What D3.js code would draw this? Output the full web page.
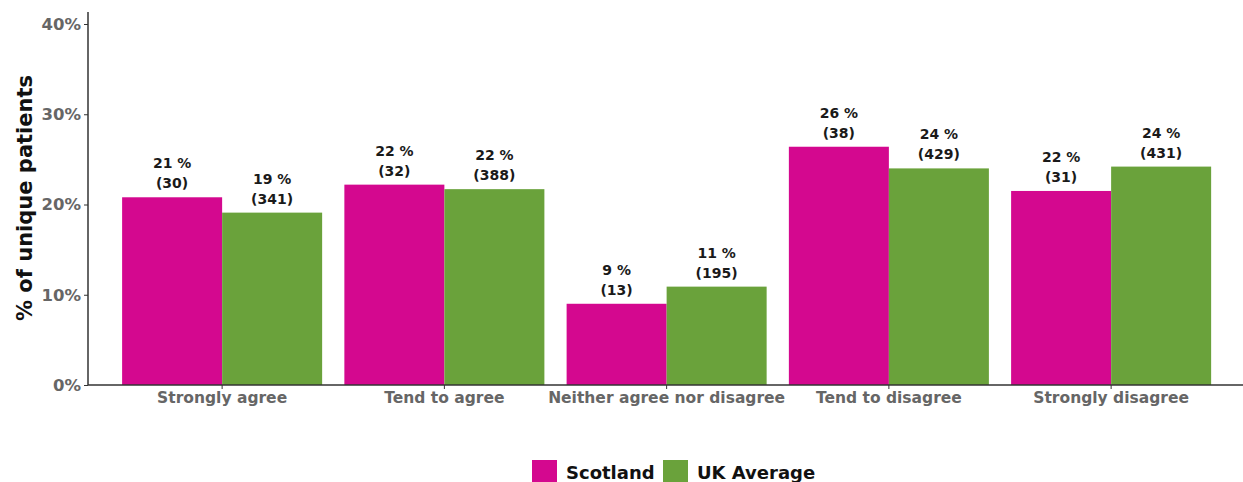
<!DOCTYPE html>
<html><head><meta charset="utf-8">
<script src="https://cdn.jsdelivr.net/npm/d3@7"></script>
<style>body{margin:0;background:#fff}svg{display:block}</style>
</head><body>
<script>
const categories = ["Strongly agree","Tend to agree","Neither agree nor disagree","Tend to disagree","Strongly disagree"];
const seriesNames = ["Scotland","UK Average"];
const scotlandPct = [20.8, 22.2, 9.0, 26.4, 21.5];
const ukPct = [19.1, 21.7, 10.9, 24.0, 24.2];
const scotlandLabels = ["21 %","22 %","9 %","26 %","22 %"];
const ukLabels = ["19 %","22 %","11 %","24 %","24 %"];
const scotlandCounts = ["(30)","(32)","(13)","(38)","(31)"];
const ukCounts = ["(341)","(388)","(195)","(429)","(431)"];
const yTicks = [0,10,20,30,40];
const colors = ["#d4088f","#6aa23b"];

const W = 1243, H = 482;
const svg = d3.select("body").append("svg").attr("width",W).attr("height",H);
const font = "'DejaVu Sans', sans-serif";

const x0 = d3.scaleBand().domain(categories).range([111,1222.25]).paddingInner(0.1).paddingOuter(0.05);
const x1 = d3.scaleBand().domain(seriesNames).range([0,x0.bandwidth()]);
const y = d3.scaleLinear().domain([0,40]).range([385,24]);

const data = categories.map((c,i)=>[
  {cat:c,s:seriesNames[0],v:scotlandPct[i],l:scotlandLabels[i],n:scotlandCounts[i]},
  {cat:c,s:seriesNames[1],v:ukPct[i],l:ukLabels[i],n:ukCounts[i]}
]).flat();

svg.append("g").selectAll("rect").data(data).join("rect")
  .attr("x",d=>x0(d.cat)+x1(d.s))
  .attr("width",x1.bandwidth())
  .attr("y",d=>y(d.v))
  .attr("height",d=>y(0)-y(d.v))
  .attr("fill",d=>colors[seriesNames.indexOf(d.s)]);

const lab = svg.append("g").selectAll("text").data(data).join("text")
  .attr("x",d=>x0(d.cat)+x1(d.s)+x1.bandwidth()/2)
  .attr("text-anchor","middle")
  .attr("font-family",font).attr("font-weight","bold").attr("font-size",14)
  .attr("fill","#1a1a1a");
lab.append("tspan").attr("x",d=>x0(d.cat)+x1(d.s)+x1.bandwidth()/2).attr("y",d=>y(d.v)-29).text(d=>d.l);
lab.append("tspan").attr("x",d=>x0(d.cat)+x1(d.s)+x1.bandwidth()/2).attr("y",d=>y(d.v)-9).text(d=>d.n);

// y axis
const ya = svg.append("g").attr("transform","translate(88,0)")
  .call(d3.axisLeft(y).tickValues(yTicks).tickFormat(d=>d+"%").tickSize(4).tickSizeOuter(0));
ya.select(".domain").attr("d","M0,12V385").attr("stroke","#333").attr("stroke-width",1.5);
ya.selectAll(".tick line").attr("stroke","#333");
ya.selectAll(".tick text").attr("font-family",font).attr("font-weight","bold").attr("font-size",16.5).attr("fill","#666").attr("x",-7);

// x axis
const xa = svg.append("g").attr("transform","translate(0,385)")
  .call(d3.axisBottom(x0).tickSize(4).tickSizeOuter(0));
xa.select(".domain").attr("d","M88,0H1243").attr("stroke","#333").attr("stroke-width",1.5);
xa.selectAll(".tick line").attr("stroke","#333");
xa.selectAll(".tick text").attr("font-family",font).attr("font-weight","bold").attr("font-size",15.5).attr("fill","#666").attr("y",7);

svg.append("text").attr("transform","translate(32,198) rotate(-90)")
  .attr("text-anchor","middle").attr("font-family",font).attr("font-weight","bold").attr("font-size",21).attr("fill","#111")
  .text("% of unique patients");

// legend
const leg = svg.append("g");
const legX = [532, 663];
seriesNames.forEach((s,i)=>{
  leg.append("rect").attr("x",legX[i]).attr("y",460).attr("width",25).attr("height",25).attr("fill",colors[i]);
  leg.append("text").attr("x",legX[i]+34).attr("y",479).attr("font-family",font).attr("font-weight","bold").attr("font-size",18).attr("fill","#111").text(s);
});
</script>
</body></html>
